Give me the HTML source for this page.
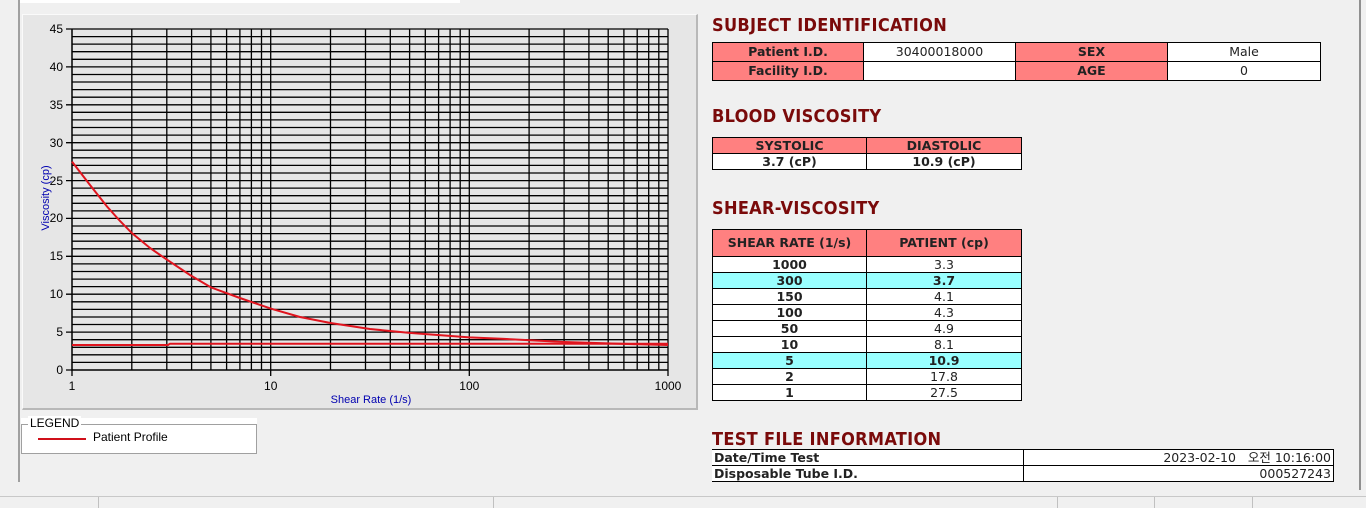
<!DOCTYPE html>
<html><head><meta charset="utf-8"><style>
*{margin:0;padding:0;box-sizing:border-box}
body{width:1366px;height:508px;background:#f0f0f0;position:relative;overflow:hidden;font-family:"Liberation Sans","Noto Sans CJK KR",sans-serif}
.a{position:absolute}
.t{position:absolute;font-family:"DejaVu Sans Condensed","Liberation Sans",sans-serif;font-weight:bold;color:#7a0a0a;font-size:18px;letter-spacing:0.3px}
table{position:absolute;border-collapse:collapse;font-family:"DejaVu Sans","Liberation Sans","Noto Sans CJK KR",sans-serif;font-size:12.5px}
td{border:1px solid #000;text-align:center;padding:0;line-height:14px;color:#222}
.h{background:#ff8080;font-weight:bold;color:#222}
.c{background:#99ffff;font-weight:bold}
.w{background:#fff}
</style></head><body>
<div class="a" style="left:20px;top:0;width:440px;height:3px;background:#fff"></div>
<div class="a" style="left:18px;top:0;width:2px;height:482px;background:#a0a0a0"></div>
<div class="a" style="left:1359px;top:0;width:2px;height:490px;background:#909090"></div>
<div class="a" style="left:22px;top:14px;width:676px;height:396px;background:#e6e6e6;border-right:2px solid #b8b8b8;border-bottom:2px solid #b8b8b8;border-top:1px solid #fafafa;border-left:1px solid #fafafa"></div>
<svg class="a" style="left:0;top:0" width="700" height="420">
<rect x="72" y="29" width="596" height="341" fill="#e6e6e6"/>
<g stroke="#000" stroke-width="1.3" fill="none">
<path d="M72 362.4H668M72 354.8H668M72 347.3H668M72 339.7H668M72 332.1H668M72 324.5H668M72 317H668M72 309.4H668M72 301.8H668M72 294.2H668M72 286.6H668M72 279.1H668M72 271.5H668M72 263.9H668M72 256.3H668M72 248.8H668M72 241.2H668M72 233.6H668M72 226H668M72 218.4H668M72 210.9H668M72 203.3H668M72 195.7H668M72 188.1H668M72 180.6H668M72 173H668M72 165.4H668M72 157.8H668M72 150.2H668M72 142.7H668M72 135.1H668M72 127.5H668M72 119.9H668M72 112.3H668M72 104.8H668M72 97.2H668M72 89.6H668M72 82H668M72 74.5H668M72 66.9H668M72 59.3H668M72 51.7H668M72 44.1H668M72 36.6H668M72 29H668"/>
<path d="M131.8 29V370M166.8 29V370M191.6 29V370M210.9 29V370M226.6 29V370M239.9 29V370M251.4 29V370M261.5 29V370M270.7 29V370M330.5 29V370M365.5 29V370M390.3 29V370M409.6 29V370M425.3 29V370M438.6 29V370M450.1 29V370M460.2 29V370M469.3 29V370M529.1 29V370M564.1 29V370M588.9 29V370M608.2 29V370M623.9 29V370M637.2 29V370M648.7 29V370M658.8 29V370M668 29V370"/>
<path d="M72 29V370H668" stroke-width="1.5"/>
<path d="M66 370H72M66 332.1H72M66 294.2H72M66 256.3H72M66 218.4H72M66 180.6H72M66 142.7H72M66 104.8H72M66 66.9H72M66 29H72M72 370V376M270.7 370V376M469.3 370V376M668 370V376"/>
</g>
<polyline fill="none" stroke="#e0141e" stroke-width="2" points="72,161.6 90,185 107,206.5 120,221 131.8,233 150,248 166.8,259.6 190,275 210.9,287.4 239.9,298 270.7,308.6 300,317 330.5,323 370,329 409.5,332.9 469.3,337.4 504.3,338.9 564.1,342 620,343.8 668,345"/>
<polyline fill="none" stroke="#e0141e" stroke-width="2" points="72,345 168,345 170,343.7 668,343.7"/>
<g font-family="Liberation Sans,sans-serif" font-size="12" fill="#000" text-anchor="end">
<text x="63" y="374">0</text><text x="63" y="336">5</text><text x="63" y="298">10</text><text x="63" y="260">15</text><text x="63" y="222">20</text><text x="63" y="185">25</text><text x="63" y="147">30</text><text x="63" y="109">35</text><text x="63" y="71">40</text><text x="63" y="33">45</text>
</g>
<g font-family="Liberation Sans,sans-serif" font-size="12" fill="#000" text-anchor="middle">
<text x="72" y="390">1</text><text x="270.7" y="390">10</text><text x="469.3" y="390">100</text><text x="668" y="390">1000</text>
</g>
<text x="371" y="403" font-family="Liberation Sans,sans-serif" font-size="11" fill="#0000b0" text-anchor="middle">Shear Rate (1/s)</text>
<text transform="translate(49,198) rotate(-90)" font-family="Liberation Sans,sans-serif" font-size="11" fill="#0000b0" text-anchor="middle">Viscosity (cp)</text>
</svg>
<div class="a" style="left:21px;top:418px;width:236px;height:36px;background:#fff"></div>
<div class="a" style="left:21px;top:424px;width:236px;height:30px;border:1px solid #a0a0a0;background:#fff"></div>
<div class="a" style="left:28px;top:416px;font-size:12px;background:#fff;padding:0 2px;font-family:'Liberation Sans',sans-serif">LEGEND</div>
<div class="a" style="left:38px;top:438px;width:48px;height:2px;background:#d0101a"></div>
<div class="a" style="left:93px;top:430px;font-size:12px;font-family:'Liberation Sans',sans-serif">Patient Profile</div>

<div class="t" style="left:712px;top:15px">SUBJECT IDENTIFICATION</div>
<table style="left:712px;top:42px;width:609px">
<tr style="height:19px"><td class="h" style="width:151px">Patient I.D.</td><td class="w" style="width:152px">30400018000</td><td class="h" style="width:152px">SEX</td><td class="w">Male</td></tr>
<tr style="height:19px"><td class="h">Facility I.D.</td><td class="w"></td><td class="h">AGE</td><td class="w">0</td></tr>
</table>
<div class="t" style="left:712px;top:106px">BLOOD VISCOSITY</div>
<table style="left:712px;top:137px;width:310px">
<tr style="height:16px"><td class="h" style="width:154px;border-bottom:none">SYSTOLIC</td><td class="h" style="border-bottom:none">DIASTOLIC</td></tr>
<tr style="height:16px"><td class="w" style="font-weight:bold">3.7 (cP)</td><td class="w" style="font-weight:bold">10.9 (cP)</td></tr>
</table>
<div class="t" style="left:712px;top:198px">SHEAR-VISCOSITY</div>
<table style="left:712px;top:229px;width:310px">
<tr style="height:27px"><td class="h" style="width:154px">SHEAR RATE (1/s)</td><td class="h">PATIENT (cp)</td></tr>
<tr style="height:16px" class="w"><td style="font-weight:bold">1000</td><td>3.3</td></tr>
<tr style="height:16px" class="c"><td>300</td><td>3.7</td></tr>
<tr style="height:16px" class="w"><td style="font-weight:bold">150</td><td>4.1</td></tr>
<tr style="height:16px" class="w"><td style="font-weight:bold">100</td><td>4.3</td></tr>
<tr style="height:16px" class="w"><td style="font-weight:bold">50</td><td>4.9</td></tr>
<tr style="height:16px" class="w"><td style="font-weight:bold">10</td><td>8.1</td></tr>
<tr style="height:16px" class="c"><td>5</td><td>10.9</td></tr>
<tr style="height:16px" class="w"><td style="font-weight:bold">2</td><td>17.8</td></tr>
<tr style="height:16px" class="w"><td style="font-weight:bold">1</td><td>27.5</td></tr>
</table>
<div class="t" style="left:712px;top:429px">TEST FILE INFORMATION</div>
<table style="left:712px;top:449px;width:622px">
<tr style="height:16px" class="w"><td style="width:311px;text-align:left;font-weight:bold;border-left:none;padding-left:2px">Date/Time Test</td><td style="text-align:right;padding-right:2px">2023-02-10 &nbsp;&nbsp;오전 10:16:00</td></tr>
<tr style="height:16px" class="w"><td style="text-align:left;font-weight:bold;border-left:none;padding-left:2px">Disposable Tube I.D.</td><td style="text-align:right;padding-right:2px">000527243</td></tr>
</table>
<div class="a" style="left:0;top:496px;width:1366px;height:12px;background:#f0f0f0;border-top:1px solid #c8c8c8"></div>
<div class="a" style="left:98px;top:497px;width:1px;height:11px;background:#c0c0c0"></div>
<div class="a" style="left:493px;top:497px;width:1px;height:11px;background:#c0c0c0"></div>
<div class="a" style="left:1057px;top:497px;width:1px;height:11px;background:#c0c0c0"></div>
<div class="a" style="left:1154px;top:497px;width:1px;height:11px;background:#c0c0c0"></div>
<div class="a" style="left:1252px;top:497px;width:1px;height:11px;background:#c0c0c0"></div>
</body></html>
